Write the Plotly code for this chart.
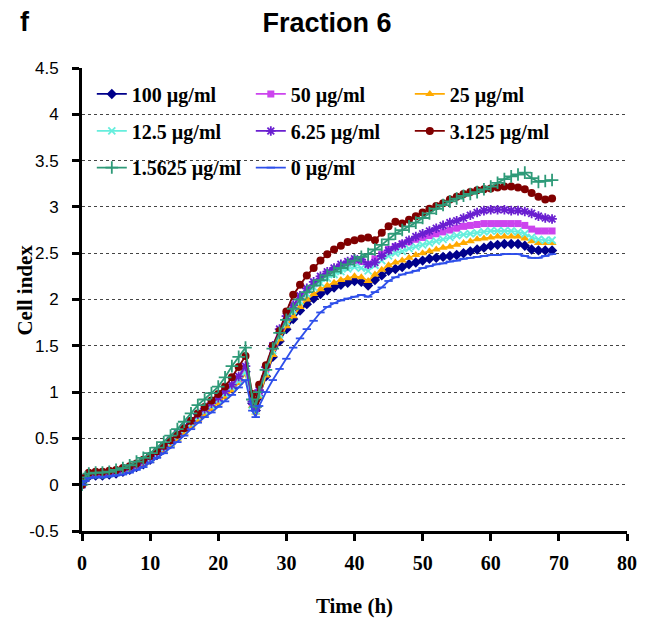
import plotly.graph_objects as go

time_h = [0, 0.5, 1, 2, 3, 4, 5, 6, 7, 8, 9, 10, 11, 12, 13, 14, 15, 16, 17, 18, 19, 20,
          21, 22, 23, 24, 25, 25.5, 26, 27, 28, 29, 30, 31, 32, 33, 34, 35, 36, 37, 38, 39,
          40, 41, 42, 43, 44, 45, 46, 47, 48, 49, 50, 51, 52, 53, 54, 55, 56, 57, 58, 59,
          60, 61, 62, 63, 64, 65, 66, 67, 68, 69]

ci_100 = [0, 0.06, 0.09, 0.10, 0.10, 0.11, 0.12, 0.14, 0.16, 0.19, 0.22, 0.27, 0.32, 0.38, 0.44, 0.51,
          0.58, 0.66, 0.72, 0.78, 0.84, 0.90, 0.97, 1.04, 1.13, 1.22, 0.88, 0.80, 0.95, 1.17, 1.38,
          1.55, 1.68, 1.79, 1.88, 1.95, 2.01, 2.06, 2.10, 2.13, 2.16, 2.18, 2.20, 2.19, 2.15, 2.21,
          2.26, 2.31, 2.33, 2.35, 2.38, 2.40, 2.42, 2.44, 2.45, 2.46, 2.47, 2.48, 2.50, 2.52, 2.54,
          2.56, 2.58, 2.59, 2.60, 2.60, 2.60, 2.58, 2.54, 2.53, 2.53, 2.53]
ci_50 = [0, 0.07, 0.10, 0.11, 0.11, 0.12, 0.13, 0.15, 0.17, 0.20, 0.24, 0.28, 0.33, 0.39, 0.46, 0.53,
         0.60, 0.67, 0.74, 0.80, 0.86, 0.92, 0.99, 1.06, 1.14, 1.25, 0.88, 0.82, 1.00, 1.25, 1.48,
         1.66, 1.80, 1.92, 2.02, 2.10, 2.17, 2.23, 2.28, 2.32, 2.36, 2.39, 2.42, 2.41, 2.38, 2.44,
         2.49, 2.54, 2.57, 2.60, 2.62, 2.65, 2.67, 2.69, 2.71, 2.73, 2.75, 2.77, 2.79, 2.80, 2.81,
         2.82, 2.82, 2.82, 2.82, 2.82, 2.82, 2.80, 2.76, 2.74, 2.74, 2.74]
ci_25 = [0, 0.06, 0.09, 0.10, 0.10, 0.11, 0.12, 0.14, 0.16, 0.19, 0.22, 0.26, 0.31, 0.37, 0.43, 0.49,
         0.56, 0.63, 0.70, 0.76, 0.82, 0.88, 0.95, 1.02, 1.10, 1.20, 0.85, 0.78, 0.95, 1.18, 1.40,
         1.57, 1.71, 1.82, 1.92, 2.00, 2.06, 2.11, 2.15, 2.18, 2.21, 2.23, 2.25, 2.24, 2.20, 2.27,
         2.32, 2.37, 2.40, 2.42, 2.45, 2.48, 2.50, 2.52, 2.54, 2.56, 2.57, 2.59, 2.61, 2.63, 2.65,
         2.66, 2.67, 2.68, 2.68, 2.68, 2.68, 2.66, 2.63, 2.61, 2.61, 2.61]
ci_12_5 = [0, 0.07, 0.10, 0.11, 0.11, 0.12, 0.13, 0.15, 0.17, 0.20, 0.24, 0.28, 0.33, 0.39, 0.45, 0.52,
           0.59, 0.66, 0.73, 0.79, 0.85, 0.91, 0.98, 1.05, 1.12, 1.22, 0.86, 0.80, 0.98, 1.22, 1.45,
           1.62, 1.76, 1.88, 1.98, 2.06, 2.13, 2.18, 2.23, 2.27, 2.30, 2.33, 2.35, 2.34, 2.31, 2.37,
           2.42, 2.47, 2.50, 2.52, 2.55, 2.57, 2.59, 2.61, 2.63, 2.65, 2.67, 2.69, 2.70, 2.71, 2.72,
           2.73, 2.74, 2.74, 2.74, 2.74, 2.73, 2.71, 2.67, 2.65, 2.64, 2.64]
ci_6_25 = [0, 0.07, 0.11, 0.12, 0.12, 0.13, 0.14, 0.16, 0.18, 0.21, 0.25, 0.30, 0.35, 0.41, 0.48, 0.55,
           0.62, 0.69, 0.76, 0.82, 0.88, 0.94, 1.01, 1.08, 1.17, 1.28, 0.90, 0.83, 1.02, 1.27, 1.50,
           1.68, 1.82, 1.94, 2.04, 2.12, 2.19, 2.25, 2.30, 2.34, 2.38, 2.41, 2.44, 2.43, 2.38, 2.40,
           2.47, 2.53, 2.57, 2.60, 2.64, 2.68, 2.71, 2.74, 2.77, 2.80, 2.83, 2.85, 2.88, 2.91, 2.94,
           2.96, 2.97, 2.97, 2.97, 2.96, 2.96, 2.95, 2.93, 2.90, 2.88, 2.87]
ci_3_125 = [0, 0.08, 0.13, 0.14, 0.14, 0.15, 0.16, 0.18, 0.20, 0.23, 0.27, 0.31, 0.36, 0.42, 0.48, 0.54,
            0.61, 0.69, 0.77, 0.84, 0.91, 0.98, 1.06, 1.16, 1.27, 1.39, 0.98, 0.90, 1.08, 1.29, 1.50,
            1.66, 1.87, 2.05, 2.16, 2.26, 2.34, 2.42, 2.49, 2.54, 2.58, 2.62, 2.64, 2.66, 2.67, 2.64,
            2.72, 2.79, 2.84, 2.82, 2.86, 2.90, 2.94, 2.98, 3.01, 3.04, 3.08, 3.11, 3.14, 3.16, 3.18,
            3.19, 3.20, 3.21, 3.22, 3.22, 3.21, 3.19, 3.15, 3.11, 3.08, 3.09]
ci_1_5625 = [0, 0.08, 0.12, 0.13, 0.13, 0.14, 0.16, 0.18, 0.21, 0.25, 0.29, 0.34, 0.40, 0.46, 0.53, 0.60,
             0.68, 0.77, 0.86, 0.92, 0.99, 1.06, 1.16, 1.28, 1.38, 1.48, 0.92, 0.84, 1.00, 1.24, 1.47,
             1.64, 1.78, 1.90, 2.00, 2.08, 2.15, 2.21, 2.26, 2.30, 2.34, 2.38, 2.42, 2.46, 2.49, 2.54,
             2.59, 2.65, 2.71, 2.75, 2.79, 2.83, 2.88, 2.93, 2.98, 3.02, 3.06, 3.09, 3.12, 3.14, 3.16,
             3.19, 3.22, 3.26, 3.30, 3.33, 3.35, 3.37, 3.31, 3.27, 3.28, 3.29]
ci_0 = [0, 0.04, 0.07, 0.08, 0.08, 0.09, 0.10, 0.11, 0.13, 0.16, 0.19, 0.24, 0.29, 0.34, 0.40, 0.46,
        0.53, 0.60, 0.67, 0.73, 0.78, 0.84, 0.90, 0.97, 1.05, 1.13, 0.80, 0.73, 0.85, 1.00, 1.13,
        1.25, 1.36, 1.48, 1.58, 1.68, 1.77, 1.86, 1.92, 1.96, 1.99, 2.01, 2.03, 2.05, 2.03, 2.08,
        2.13, 2.20, 2.24, 2.27, 2.29, 2.31, 2.34, 2.36, 2.38, 2.39, 2.41, 2.42, 2.44, 2.45, 2.46,
        2.47, 2.48, 2.48, 2.49, 2.49, 2.49, 2.47, 2.45, 2.45, 2.47, 2.49]

series_names = ["100 µg/ml", "50 µg/ml", "25 µg/ml", "12.5 µg/ml", "6.25 µg/ml",
                "3.125 µg/ml", "1.5625 µg/ml", "0 µg/ml"]
series_values = [ci_100, ci_50, ci_25, ci_12_5, ci_6_25, ci_3_125, ci_1_5625, ci_0]

y_tick_vals = [-0.5, 0, 0.5, 1, 1.5, 2, 2.5, 3, 3.5, 4, 4.5]
y_tick_text = ["-0.5", "0", "0.5", "1", "1.5", "2", "2.5", "3", "3.5", "4", "4.5"]
x_tick_vals = [0, 10, 20, 30, 40, 50, 60, 70, 80]

styles = [
    dict(color="#00008B", symbol="diamond", size=8, open=False),
    dict(color="#CC44EE", symbol="square", size=7, open=False),
    dict(color="#FFAA00", symbol="triangle-up", size=8, open=False),
    dict(color="#66EEDD", symbol="x-thin-open", size=7, open=True),
    dict(color="#6A1FD0", symbol="asterisk-open", size=8, open=True),
    dict(color="#800000", symbol="circle", size=8, open=False),
    dict(color="#2E9A78", symbol="cross-thin-open", size=9, open=True),
    dict(color="#2E4FEA", symbol="line-ew-open", size=6, open=True),
]
legend_ids = ["legend", "legend", "legend", "legend2", "legend2", "legend2", "legend3", "legend3"]

fig = go.Figure()
for name, vals, st, lg in zip(series_names, series_values, styles, legend_ids):
    marker = dict(symbol=st["symbol"], size=st["size"], color=st["color"])
    if st["open"]:
        marker["line"] = dict(color=st["color"], width=1.8)
    else:
        marker["line"] = dict(width=0)
    fig.add_trace(go.Scatter(
        x=time_h, y=vals, name=name, mode="lines+markers", legend=lg,
        line=dict(color=st["color"], width=1.8), marker=marker,
    ))

serif = "Liberation Serif, Times New Roman, serif"
sans = "Liberation Sans, Arial, sans-serif"

legend_font = dict(family=serif, size=20, color="black", weight="bold")


def leg(yc):
    return dict(orientation="h", x=0.018, y=yc, xanchor="left", yanchor="middle",
                entrywidth=114, entrywidthmode="pixels", font=legend_font,
                bgcolor="rgba(0,0,0,0)", itemwidth=30)


fig.update_layout(
    width=638, height=619,
    margin=dict(l=74, r=19, t=60, b=96),
    paper_bgcolor="white", plot_bgcolor="white",
    showlegend=True,
    legend=leg(0.944),
    legend2=leg(0.864),
    legend3=leg(0.785),
    title=dict(text="Fraction 6", x=0.5, xanchor="center", y=0.977, yanchor="middle",
               font=dict(family=sans, size=27, color="black", weight="bold")),
    xaxis=dict(
        range=[0, 80], tickvals=x_tick_vals, automargin=False,
        showline=True, linecolor="black", linewidth=3,
        ticks="outside", ticklen=7, tickwidth=3, tickcolor="black",
        ticklabelstandoff=5,
        showgrid=False, zeroline=False,
        tickfont=dict(family=serif, size=20, color="black", weight="bold"),
        title=dict(text="Time (h)", font=dict(family=serif, size=21, color="black", weight="bold"),
                   standoff=26),
    ),
    yaxis=dict(
        range=[-0.5, 4.5], tickvals=y_tick_vals, ticktext=y_tick_text, automargin=False,
        showline=True, linecolor="black", linewidth=3,
        ticks="outside", ticklen=7, tickwidth=3, tickcolor="black",
        ticklabelstandoff=10,
        showgrid=True, gridcolor="#444444", griddash="dot", gridwidth=1,
        zeroline=False,
        tickfont=dict(family=sans, size=17, color="black"),
    ),
)
fig.add_annotation(text="Cell index", xref="paper", yref="paper", x=-0.104, y=0.52,
                   xanchor="center", yanchor="middle", textangle=-90, showarrow=False,
                   font=dict(family=serif, size=21, color="black", weight="bold"))
fig.add_annotation(text="f", xref="paper", yref="paper", x=-0.118, y=1.1,
                   xanchor="left", yanchor="middle", showarrow=False,
                   font=dict(family=sans, size=27, color="black", weight="bold"))

fig.write_html("out.html")
